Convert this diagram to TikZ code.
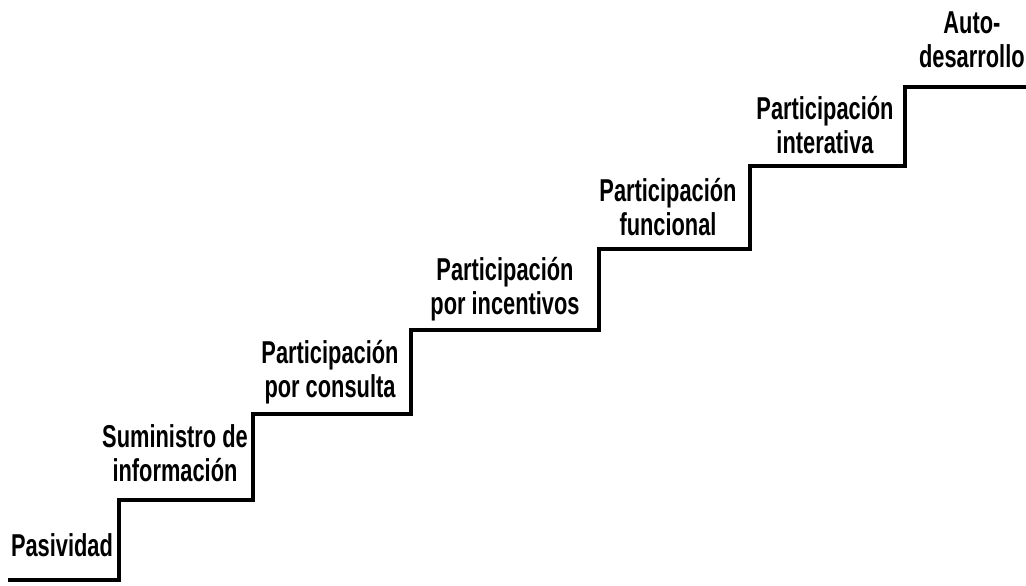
\documentclass[tikz,border=0pt]{standalone}
\usepackage{fontspec}
\setmainfont[FakeStretch=0.69]{Liberation Sans}
\usepackage{tikz}
\usetikzlibrary{positioning}

\begin{document}
\begin{tikzpicture}[
    stair/.style={draw=black, line width=1.8pt, line join=miter},
    steplabel/.style={align=center, font=\fontsize{18}{19.5}\selectfont\bfseries, inner sep=0pt}
]
    \useasboundingbox (0, 0) rectangle (20.52, 11.72);

    % === Staircase ===
    \coordinate (s0) at (0.16, 0.12);
    \coordinate (s1) at (2.38, 0.12);
    \coordinate (s2) at (5.06, 1.72);
    \coordinate (s3) at (8.22, 3.44);
    \coordinate (s4) at (11.98, 5.12);
    \coordinate (s5) at (15.0, 6.74);
    \coordinate (s6) at (18.1, 8.4);
    \coordinate (s7) at (20.52, 9.98);

    \draw[stair] (s0) -- (s1) |- (s2) |- (s3) |- (s4) |- (s5) |- (s6) |- (s7);

    % === Labels ===
    \node[steplabel] (pasiv) at (1.24, 0.82) {Pasividad};
    \node[steplabel] (sumin) at (3.5, 2.66) {Suministro de\\información};
    \node[steplabel] (consul) at (6.6, 4.28) {Participación\\por consulta};
    \node[steplabel] (incent) at (10.1, 5.94) {Participación\\por incentivos};
    \node[steplabel] (funcio) at (13.36, 7.58) {Participación\\funcional};
    \node[steplabel] (intera) at (16.5, 9.22) {Participación\\interativa};
    \node[steplabel, anchor=east] (autod) at (20.5, 10.92) {Auto-\\desarrollo};
\end{tikzpicture}
\end{document}
